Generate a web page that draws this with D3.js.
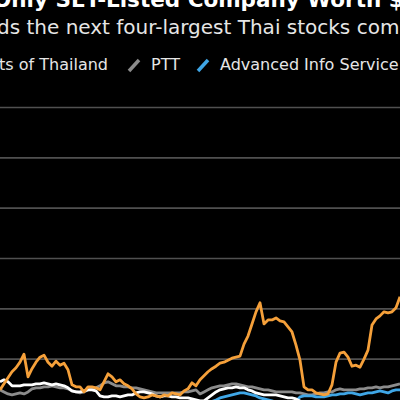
<!DOCTYPE html>
<html>
<head>
<meta charset="utf-8">
<script src="https://cdn.jsdelivr.net/npm/d3@7"></script>
<style>
  html, body { margin: 0; padding: 0; background: #000; }
  svg { display: block; }
</style>
</head>
<body>
<div class="container"></div>
<script>
// weekly samples, index 0..100 across the visible window
var weeks = d3.range(0, 101);

var delta = [3.8,5.0,6.2,7.4,8.2,9.3,10.9,6.4,8.0,9.3,
	10.3,10.7,9.3,8.5,9.5,8.7,9.1,7.8,4.8,4.4,
	4.4,3.4,4.4,4.4,4.2,3.8,5.4,7.0,6.4,5.4,
	5.8,5.0,4.6,4.0,3.0,2.4,2.2,2.4,2.8,2.6,
	2.4,2.8,2.6,3.2,3.0,2.8,3.6,4.0,5.2,4.6,
	5.8,6.6,7.4,8.0,8.5,9.1,9.3,9.7,10.1,10.3,
	10.5,12.9,14.5,16.9,19.3,21.1,16.9,17.7,17.7,18.1,
	17.5,17.3,16.3,15.3,12.7,9.7,4.4,3.8,3.8,3.2,
	3.0,2.8,3.0,4.8,9.3,11.1,11.3,10.3,8.5,8.7,
	8.3,9.9,11.7,16.7,17.9,18.5,19.3,19.1,19.3,20.1,
	22.3];

var airports = [5.4,5.8,5.4,4.6,4.6,4.6,4.8,4.8,4.8,5.0,
	5.0,5.2,5.0,4.8,5.0,4.8,4.6,4.2,3.6,3.4,
	3.4,3.6,3.8,3.8,3.6,2.6,2.4,2.4,2.6,2.6,
	2.4,2.6,2.8,2.8,3.2,3.4,3.4,3.2,3.0,2.6,
	2.4,2.6,2.6,2.4,2.4,2.2,2.2,2.2,2.0,1.8,
	1.6,1.6,2.2,2.8,3.4,3.8,4.0,4.2,4.2,4.4,
	4.2,4.2,3.8,3.6,3.2,3.0,2.8,2.8,2.8,2.8,
	2.6,2.4,2.2,2.2,2.0,1.6,1.2,1.0,0.9,0.9,
	1.0,1.1,1.0,0.9,1.0,1.1,1.2,1.1,1.0,1.0,
	1.1,1.2,1.1,1.0,1.1,1.2,1.2,1.1,1.2,1.3,
	1.2];

var ptt = [3.8,3.4,3.0,2.8,3.0,3.2,3.0,3.4,4.0,4.2,
	4.2,4.4,4.4,4.6,4.4,4.2,4.2,4.0,3.6,3.4,
	3.2,3.4,3.8,4.0,4.2,4.6,5.2,5.4,5.0,4.6,
	4.6,4.4,4.4,4.2,4.2,4.0,3.8,3.6,3.4,3.2,
	3.2,3.2,3.2,3.2,3.2,3.2,3.4,3.4,3.6,3.8,
	3.0,3.4,3.8,4.2,4.4,4.6,4.6,4.8,5.0,5.0,
	4.8,4.6,4.4,4.4,4.2,4.0,3.8,3.8,3.6,3.4,
	3.4,3.4,3.4,3.4,3.2,3.2,3.0,2.8,2.8,3.0,
	3.2,3.2,3.4,3.4,3.8,4.0,3.8,3.8,3.8,3.8,
	4.0,4.0,4.2,4.2,4.4,4.2,4.4,4.4,4.6,4.8,
	5.0];

var advanc = [1.4,1.3,1.2,1.2,1.1,1.2,1.3,1.2,1.1,1.0,
	1.1,1.2,1.2,1.3,1.2,1.1,1.1,1.0,1.0,0.9,
	0.9,1.0,1.0,0.9,0.9,0.8,0.8,0.9,0.9,0.8,
	0.8,0.8,0.7,0.7,0.8,0.8,0.7,0.7,0.7,0.8,
	0.8,0.8,0.9,0.9,0.9,1.0,1.0,1.1,1.1,1.0,
	1.0,1.1,1.3,1.5,1.8,2.2,2.4,2.6,2.8,3.0,
	3.2,3.2,3.0,2.8,2.6,2.2,2.0,1.8,1.6,1.4,
	1.4,1.4,1.4,1.4,1.6,2.4,2.6,2.6,2.6,2.4,
	2.4,2.4,2.6,2.8,2.8,3.0,3.0,3.2,3.2,3.0,
	2.8,3.0,3.2,3.2,3.4,3.6,3.4,3.2,3.6,3.8,
	3.8];

var gridValues = [10, 20, 30, 40, 50, 60];

var titleText = 'Only SET-Listed Company Worth $',
	subtitleText = 'exceeds the next four-largest Thai stocks combined',
	legendNames = ['Airports of Thailand', 'PTT', 'Advanced Info Service'],
	legendColors = ['#ffffff', '#8c8c8c', '#3fa6e6'];

var WIDTH = 400,
	HEIGHT = 400,
	FONT = '"DejaVu Sans", sans-serif';

var svg = d3.select('.container').append('svg')
	.attr('width', WIDTH)
	.attr('height', HEIGHT)
	.style('font-family', FONT);

svg.append('rect')
	.attr('width', WIDTH)
	.attr('height', HEIGHT)
	.attr('fill', '#000');

var xScale = d3.scaleLinear()
	.domain([0, 100])
	.range([0, WIDTH]);

var yScale = d3.scaleLinear()
	.domain([0, 60])
	.range([409, 107]);

// gridlines only, labels sit outside the crop
var grid = svg.append('g')
	.call(d3.axisRight(yScale)
		.tickValues(gridValues)
		.tickSize(WIDTH)
		.tickFormat(''));
grid.select('.domain').remove();
grid.selectAll('line')
	.attr('stroke', '#505050')
	.attr('stroke-width', 1.6);

function drawLine(values, color) {
	svg.append('path')
		.datum(values)
		.attr('fill', 'none')
		.attr('stroke', color)
		.attr('stroke-width', 2.8)
		.attr('stroke-linejoin', 'round')
		.attr('d', d3.line()
			.x(function(d, i) { return xScale(weeks[i]); })
			.y(function(d) { return yScale(d); }));
}

drawLine(ptt, '#8c8c8c');
drawLine(advanc, '#3fa6e6');
drawLine(airports, '#ffffff');
drawLine(delta, '#f5a03a');

// title and subtitle, cut by the frame like the reference
svg.append('text')
	.attr('x', -7)
	.attr('y', 7)
	.attr('fill', '#fff')
	.attr('font-weight', 'bold')
	.attr('font-size', 21.5)
	.text(titleText);

var sub = svg.append('text')
	.attr('x', 0)
	.attr('y', 34)
	.attr('fill', '#e6e6e6')
	.attr('font-size', 20)
	.text(subtitleText);
// shift so that "ds" of "exceeds" starts at the left edge
sub.attr('x', -3 - sub.node().getSubStringLength(0, 5));

// legend
var leg = svg.append('g').attr('font-size', 16).attr('fill', '#e6e6e6');
var first = leg.append('text').attr('x', 0).attr('y', 70).text(legendNames[0]);
first.attr('x', 108 - first.node().getComputedTextLength());
var legX = [151, 220];
[1, 2].forEach(function(k, j) {
	var x0 = legX[j];
	leg.append('line')
		.attr('x1', x0 - 22).attr('y1', 71)
		.attr('x2', x0 - 12).attr('y2', 60)
		.attr('stroke', legendColors[k])
		.attr('stroke-width', 3.5);
	leg.append('text')
		.attr('x', x0)
		.attr('y', 70)
		.text(legendNames[k]);
});
</script>
</body>
</html>
